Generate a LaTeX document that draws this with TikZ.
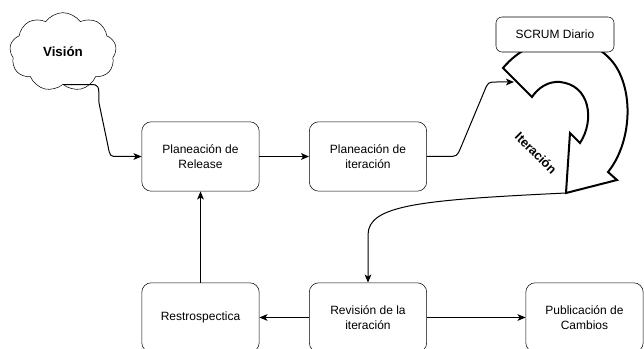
\documentclass[tikz,border=0pt]{standalone}
\usepackage{fontspec}
\setmainfont{Liberation Sans}
\usetikzlibrary{arrows.meta,shapes.symbols}
\begin{document}
\begin{tikzpicture}[x=0.75pt,y=-0.75pt,
    kasten/.style={draw,fill=white,rounded corners=7pt,minimum width=88pt,minimum height=52pt,
      align=center,inner sep=0pt,font=\fontsize{9}{11.25}\selectfont},
    pfeil/.style={-{Stealth[length=6pt,width=5pt,inset=1.5pt]},line width=0.75pt}]
  \useasboundingbox (0,0) rectangle (644,349);
  \clip (0,0) rectangle (644,349);
  % Wolke
  \node[cloud,draw,cloud puffs=9,cloud puff arc=110,cloud ignores aspect,
    minimum width=80pt,minimum height=59pt,inner sep=0pt,
    font=\bfseries\fontsize{10}{12}\selectfont] (vision) at (63,52) {Visión};
  % Kaesten
  \node[kasten] (rel) at (200.5,156.5) {Planeación de\\Release};
  \node[kasten] (pit) at (368,156.5) {Planeación de\\iteración};
  \node[kasten] (retro) at (200.5,317.5) {Restrospectica};
  \node[kasten] (rev) at (368,317.5) {Revisión de la\\iteración};
  \node[kasten] (pub) at (584.5,317.5) {Publicación de\\Cambios};
  % gebogener Pfeil
  \draw[line width=1.5pt,fill=white,line join=miter]
    (503,68) .. controls (535,30) and (590,30) .. (615,65)
    .. controls (635,95) and (630,145) .. (608,172)
    -- (617,180) -- (566,193) -- (570,133) -- (580,143)
    .. controls (595,120) and (590,85) .. (560,82)
    .. controls (548,81) and (538,88) .. (532,97) -- cycle;
  \coordinate (ein) at (514,82);
  \coordinate (aus) at (566,193);
  \node[rotate=-45,font=\bfseries\fontsize{9.5}{11}\selectfont] (iter) at (536,153) {Iteración};
  % Kasten SCRUM
  \node[draw,fill=white,rounded corners=4.5pt,minimum width=88.5pt,minimum height=26.25pt,
    inner sep=0pt,font=\fontsize{9}{11}\selectfont] (scrum) at (555,34.5) {SCRUM Diario};
  % Verbindungen
  \draw[pfeil] (vision.south) -- ++(27,0) .. controls +(9,0) .. (99,103) -- (108,146)
    .. controls (110,156.5) .. (118,156.5) -- (rel.west);
  \draw[pfeil] (rel.east) -- (pit.west);
  \draw[pfeil] (pit.east) -- (447,156.5) .. controls (457,156.5) .. (461,147) -- (484,92)
    .. controls (488,82) .. (497,82) -- (ein);
  \draw[pfeil] (aus) .. controls (420,200) and (368,205) .. (368,235) -- (rev.north);
  \draw[pfeil] (rev.west) -- (retro.east);
  \draw[pfeil] (rev.east) -- (pub.west);
  \draw[pfeil] (retro.north) -- (rel.south);
\end{tikzpicture}
\end{document}
